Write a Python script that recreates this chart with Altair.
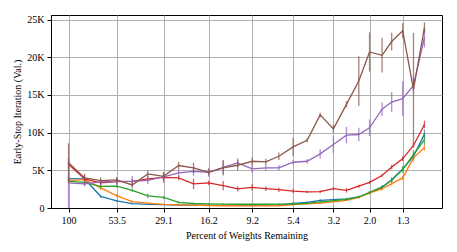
import altair as alt
import pandas as pd

pct = [100, 81.2, 65.9, 53.5, 43.7, 35.7, 29.1, 23.9, 19.7, 16.2, 13.4, 11.1, 9.2,
       7.7, 6.5, 5.4, 4.5, 3.8, 3.2, 2.7, 2.3, 2.0, 1.7, 1.5, 1.3, 1.13, 0.98]
tick_vals = [100, 53.5, 29.1, 16.2, 9.2, 5.4, 3.2, 2.0, 1.3]
y_ticks = [0, 5000, 10000, 15000, 20000, 25000]

names = ["s1", "s2", "s3", "s4", "s5", "s6"]
colors = ["#1f77b4", "#ff7f0e", "#2ca02c", "#d62728", "#9467bd", "#8c564b"]

s1 = [3900, 3850, 1550, 930, 570, 480, 440, 400, 380, 360, 350, 340, 350, 380, 420,
      600, 750, 1000, 1100, 1200, 1460, 2000, 2740, 3760, 5190, 6860, 9800]
s2 = [3630, 3760, 2660, 1640, 840, 660, 480, 420, 380, 330, 300, 280, 270, 280, 300,
      440, 550, 650, 800, 1000, 1400, 2000, 2530, 3230, 3990, 6650, 7980]
s3 = [3540, 3400, 2870, 2900, 2340, 1600, 1410, 750, 600, 550, 520, 500, 500, 500, 510,
      530, 610, 800, 970, 1140, 1460, 2080, 2790, 3670, 5090, 7090, 9080]
s4 = [5800, 3860, 3330, 3500, 3540, 3860, 4070, 3990, 3190, 3330, 2970, 2530, 2740, 2570, 2430,
      2250, 2130, 2170, 2570, 2340, 2900, 3400, 4300, 5450, 6520, 8290, 11080]
s5 = [3330, 3190, 3460, 3540, 3540, 3670, 4120, 4650, 4870, 4740, 5400, 5990, 5190, 5320, 5320,
      6070, 6200, 7180, 8420, 9660, 9750, 10640, 13100, 14050, 14500, 16270, 22600]
s6 = [5990, 3990, 3630, 3720, 3060, 4520, 4200, 5630, 5320, 4740, 5320, 5670, 6200, 6120, 6860,
      8100, 8990, 12350, 10500, 13740, 16840, 20700, 20260, 22080, 23490, 15730, 23940]

e1 = [300, 200, 200, 150, 100, 80, 80, 80, 80, 80, 80, 80, 80, 100, 100,
      150, 150, 150, 150, 150, 150, 200, 250, 300, 300, 400, 600]
e2 = [200, 200, 300, 200, 150, 100, 80, 80, 80, 80, 80, 80, 80, 80, 80,
      100, 100, 100, 100, 100, 150, 150, 200, 250, 300, 500, 400]
e3 = [300, 500, 300, 200, 200, 300, 200, 150, 100, 100, 100, 80, 80, 80, 80,
      100, 100, 100, 100, 150, 150, 150, 200, 300, 400, 600, 700]
e4 = [400, 500, 400, 300, 300, 300, 700, 300, 700, 300, 600, 350, 400, 300, 300,
      300, 150, 200, 200, 300, 200, 200, 200, 300, 300, 300, 500]
e5 = [3300, 300, 400, 500, 700, 500, 300, 500, 600, 600, 900, 600, 500, 400, 400,
      300, 300, 600, 1100, 1100, 900, 1100, 900, 1300, 2300, 1000, 1300]
e6 = [2600, 500, 400, 400, 400, 500, 400, 500, 700, 400, 1000, 700, 500, 400, 500,
      1200, 300, 300, 500, 400, 3300, 2600, 2300, 1150, 1000, 7500, 700]

rows = []
for k, (vals, errs) in enumerate(zip([s1, s2, s3, s4, s5, s6], [e1, e2, e3, e4, e5, e6])):
    for p, v, e in zip(pct, vals, errs):
        rows.append({"series": names[k], "order": k, "pct": p, "val": v,
                     "lo": v - e, "hi": v + e})
df = pd.DataFrame(rows)

font = "Liberation Serif, Times New Roman, serif"
xs = alt.Scale(type="log", domain=[0.78, 125.6], reverse=True, nice=False)
ys = alt.Scale(domain=[0, 25600], nice=False)
cs = alt.Scale(domain=names, range=colors)

x_axis = alt.Axis(values=tick_vals, labelOverlap=False,
                  labelExpr="datum.value == 100 ? '100' : format(datum.value, '.1f')")
y_axis = alt.Axis(values=y_ticks, labelOverlap=False,
                  labelExpr="datum.value == 0 ? '0' : (datum.value / 1000) + 'K'")
xt = "Percent of Weights Remaining"
yt = "Early-Stop Iteration (Val.)"

layers = []
for k in range(6):
    sub = df[df["series"] == names[k]]
    base = alt.Chart(sub)
    err = base.mark_rule(strokeWidth=1.3, opacity=0.75).encode(
        x=alt.X("pct:Q", scale=xs, axis=x_axis, title=xt),
        y=alt.Y("lo:Q", scale=ys, axis=y_axis, title=yt), y2="hi:Q",
        color=alt.Color("series:N", scale=cs, legend=None))
    line = base.mark_line(strokeWidth=1.3).encode(
        x=alt.X("pct:Q", scale=xs, axis=x_axis, title=xt),
        y=alt.Y("val:Q", scale=ys, axis=y_axis, title=yt),
        color=alt.Color("series:N", scale=cs, legend=None))
    layers += [err, line]

chart = alt.layer(*layers).properties(
    width=391, height=193,
    autosize=alt.AutoSizeParams(type="none"),
    padding={"left": 43, "top": 7, "right": 7, "bottom": 36},
).configure_view(stroke="black", strokeWidth=1).configure_axis(
    labelFont=font, titleFont=font, labelFontSize=10, titleFontSize=10,
    titleFontWeight="normal", labelColor="black", titleColor="black",
    tickColor="black", domainColor="black", tickSize=4,
    gridColor="#b0b0b0", gridWidth=1, labelPadding=3,
).configure_axisX(titlePadding=5).configure_axisY(titlePadding=4)

chart.save("out.html", embed_options={"renderer": "svg", "actions": False})
